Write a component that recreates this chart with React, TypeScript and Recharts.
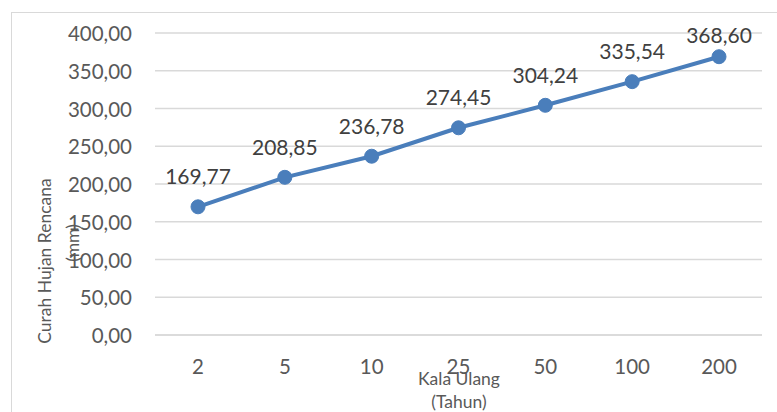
import React from "react";
import { LineChart, Line, XAxis, YAxis, CartesianGrid, LabelList } from "recharts";

const categories = ["2", "5", "10", "25", "50", "100", "200"];
const values = [169.77, 208.85, 236.78, 274.45, 304.24, 335.54, 368.6];
const yTicks = [0, 50, 100, 150, 200, 250, 300, 350, 400];

const data = categories.map((c, i) => ({ kala: c, curah: values[i] }));

const FONT = "Lato, 'Noto Sans', sans-serif";
const fmt = (v: number) => v.toFixed(2).replace(".", ",");

const XTick = (props: any) => {
  const { x, y, payload } = props;
  return (
    <text x={x} y={y + 31} textAnchor="middle" dominantBaseline="central" fill="#595959" fontSize={20.5} fontFamily={FONT}>
      {payload.value}
    </text>
  );
};

const YTick = (props: any) => {
  const { x, y, payload } = props;
  return (
    <text x={x - 23} y={y} textAnchor="end" dominantBaseline="central" fill="#595959" fontSize={20.5} fontFamily={FONT}>
      {fmt(payload.value)}
    </text>
  );
};

const DataLabel = (props: any) => {
  const { x, y, value } = props;
  const ly = Math.max(y - 31, 34);
  return (
    <text x={x} y={ly} textAnchor="middle" dominantBaseline="central" fill="#404040" fontSize={21} fontFamily={FONT}>
      {fmt(value)}
    </text>
  );
};

const YTitle = () => (
  <g>
    <text x={44} y={261} transform="rotate(-90 44 261)" textAnchor="middle" dominantBaseline="central" fill="#595959" fontSize={17.5} fontFamily={FONT}>
      Curah Hujan Rencana
    </text>
    <text x={72} y={243} transform="rotate(-90 72 243)" textAnchor="middle" dominantBaseline="central" fill="#595959" fontSize={17.5} fontFamily={FONT}>
      (mm)
    </text>
  </g>
);

const XTitle = () => (
  <g>
    <text x={459} y={378} textAnchor="middle" dominantBaseline="central" fill="#595959" fontSize={17.5} fontFamily={FONT}>
      Kala Ulang
    </text>
    <text x={459} y={401} textAnchor="middle" dominantBaseline="central" fill="#595959" fontSize={17.5} fontFamily={FONT}>
      (Tahun)
    </text>
  </g>
);

export default function App() {
  return (
    <div style={{ position: "absolute", left: 0, top: 0, width: 777, height: 412, background: "#fff", overflow: "hidden" }}>
      <div style={{ position: "absolute", left: 11, top: 12, width: 800, height: 500, borderLeft: "1px solid #d9d9d9", borderTop: "1px solid #d9d9d9" }} />
      <div style={{ position: "absolute", left: 0, top: 0 }}>
        <LineChart width={777} height={412} data={data} margin={{ top: 33, right: 15, left: 0, bottom: 0 }}>
          <CartesianGrid vertical={false} stroke="#d9d9d9" strokeWidth={1.5} />
          <XAxis
            dataKey="kala"
            height={77}
            padding={{ left: 43, right: 43 }}
            axisLine={{ stroke: "#d9d9d9", strokeWidth: 1.5 }}
            tickLine={false}
            tickSize={0}
            tickMargin={0}
            tick={<XTick />}
            interval={0}
            label={{ content: () => <XTitle /> }}
          />
          <YAxis
            width={155}
            domain={[0, 400]}
            ticks={yTicks}
            axisLine={false}
            tickLine={false}
            tickSize={0}
            tickMargin={0}
            tick={<YTick />}
            interval={0}
            label={{ content: () => <YTitle /> }}
          />
          <Line
            dataKey="curah"
            stroke="#4a7ebb"
            strokeWidth={4}
            dot={{ r: 7, fill: "#4a7ebb", stroke: "#4a7ebb", strokeWidth: 1 }}
            isAnimationActive={false}
          >
            <LabelList dataKey="curah" content={<DataLabel />} />
          </Line>
        </LineChart>
      </div>
    </div>
  );
}
